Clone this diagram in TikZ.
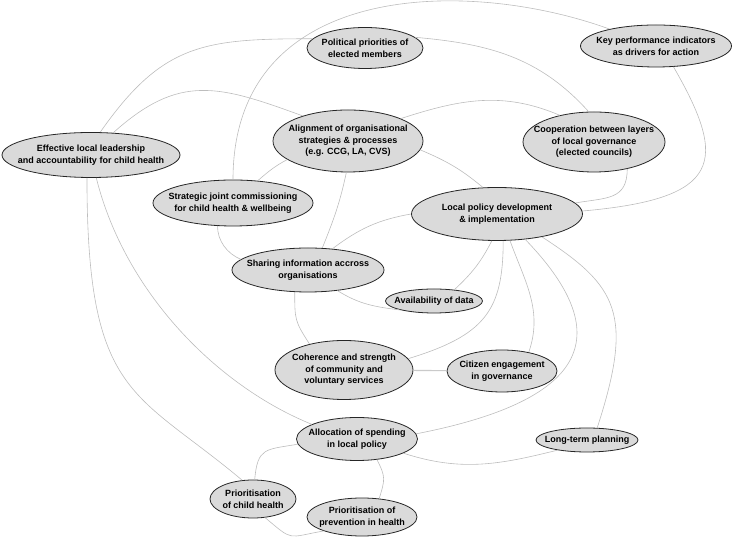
\documentclass[tikz,border=0pt]{standalone}
\usepackage{fontspec}
\setmainfont{Liberation Sans}
\usepackage{tikz}
\usetikzlibrary{shapes.geometric}

\definecolor{ovalfill}{HTML}{DADADA}
\definecolor{linkgray}{HTML}{BDBDBD}

\begin{document}
\begin{tikzpicture}[x=1pt,y=1pt,
    topic/.style={ellipse,draw=black!85,fill=ovalfill,line width=0.8pt,
        inner xsep=-30pt,inner ysep=0pt,
        align=center,font=\fontsize{9}{11.6}\selectfont\bfseries},
    link/.style={draw=linkgray,line width=0.6pt}]
    \useasboundingbox (0,0) rectangle (733,537);
    % topics
    \node[topic,minimum width=116pt,minimum height=41pt] (pol) at (365,489)
        {Political priorities of\\elected members};
    \node[topic,minimum width=151pt,minimum height=42pt] (kpi) at (656,491)
        {Key performance indicators\\as drivers for action};
    \node[topic,minimum width=178pt,minimum height=45pt] (eff) at (91,382)
        {Effective local leadership\\and accountability for child health};
    \node[topic,minimum width=150pt,minimum height=62pt] (ali) at (348,396)
        {Alignment of organisational\\strategies \& processes\\(e.g. CCG, LA, CVS)};
    \node[topic,minimum width=142pt,minimum height=60pt] (coop) at (594,395)
        {Cooperation between layers\\of local governance\\(elected councils)};
    \node[topic,minimum width=160pt,minimum height=46pt] (strat) at (233,334)
        {Strategic joint commissioning\\for child health \& wellbeing};
    \node[topic,minimum width=171pt,minimum height=53pt] (loc) at (497,323)
        {Local policy development\\\& implementation};
    \node[topic,minimum width=152pt,minimum height=44pt] (share) at (308,267)
        {Sharing information accross\\organisations};
    \node[topic,minimum width=97pt,minimum height=24pt] (avail) at (434,236)
        {Availability of data};
    \node[topic,minimum width=138pt,minimum height=59pt] (coh) at (344,167)
        {Coherence and strength\\of community and\\voluntary services};
    \node[topic,minimum width=110pt,minimum height=42pt] (cit) at (502,166)
        {Citizen engagement\\in governance};
    \node[topic,minimum width=121pt,minimum height=43pt] (alloc) at (357,98)
        {Allocation of spending\\in local policy};
    \node[topic,minimum width=102pt,minimum height=24pt] (lt) at (587,97)
        {Long-term planning};
    \node[topic,minimum width=86pt,minimum height=38pt] (pch) at (253,38)
        {Prioritisation\\of child health};
    \node[topic,minimum width=110pt,minimum height=38pt] (pre) at (362,20)
        {Prioritisation of\\prevention in health};
    % links
    \draw[link] (eff.68) to[out=55,in=180,looseness=1.2] (pol.170);
    \draw[link] (pol.12) to[out=-5,in=132] (coop.100);
    \draw[link] (kpi.160) to[out=160,in=90,out distance=150pt,in distance=200pt] (strat.north);
    \draw[link] (kpi.310) to[out=-60,in=5,out distance=110pt,in distance=140pt] (loc.2);
    \draw[link] (eff.45) to[out=42,in=160,looseness=1.2] (ali.151);
    \draw[link] (ali.23) to[out=18,in=157] (coop.142);
    \draw[link] (ali.353) to[out=-23,in=140] (loc.118);
    \draw[link] (ali.197) to[out=208,in=41] (strat.42);
    \draw[link] (ali.267) to[out=258,in=68] (share.57);
    \draw[link] (coop.321) to[out=270,in=10,looseness=1.3] (loc.8);
    \draw[link] (eff.260) to[out=270,in=140,out distance=220pt,in distance=140pt] (pch.120);
    \draw[link] (eff.283) to[out=284,in=158,out distance=120pt,in distance=100pt] (alloc.162);
    \draw[link] (strat.236) to[out=270,in=157,out distance=15pt,in distance=15pt] (share.171);
    \draw[link] (share.41) to[out=37,in=190] (loc.180);
    \draw[link] (share.325) to[out=-32,in=173] (avail.195);
    \draw[link] (loc.259) to[out=243,in=43] (avail.29);
    \draw[link] (loc.283) to[out=270,in=17,out distance=70pt,in distance=80pt] (coh.10);
    \draw[link] (loc.296) to[out=290,in=71] (cit.35);
    \draw[link] (loc.318) to[out=314,in=11,out distance=130pt,in distance=180pt] (alloc.5);
    \draw[link] (loc.333) to[out=327,in=72,out distance=90pt,in distance=120pt] (lt.50);
    \draw[link] (share.239) to[out=270,in=123,looseness=1.3] (coh.143);
    \draw[link,line width=1.1pt,draw=linkgray!80] (coh) -- (cit);
    \draw[link] (alloc.343) to[out=-18,in=194] (lt.199);
    \draw[link] (alloc.185) to[out=190,in=85,looseness=1.5] (pch.85);
    \draw[link] (alloc.314) to[out=297,in=73,looseness=1.3] (pre.47);
    \draw[link] (pch.303) to[out=-40,in=190,looseness=1.6] (pre.200);
\end{tikzpicture}
\end{document}
